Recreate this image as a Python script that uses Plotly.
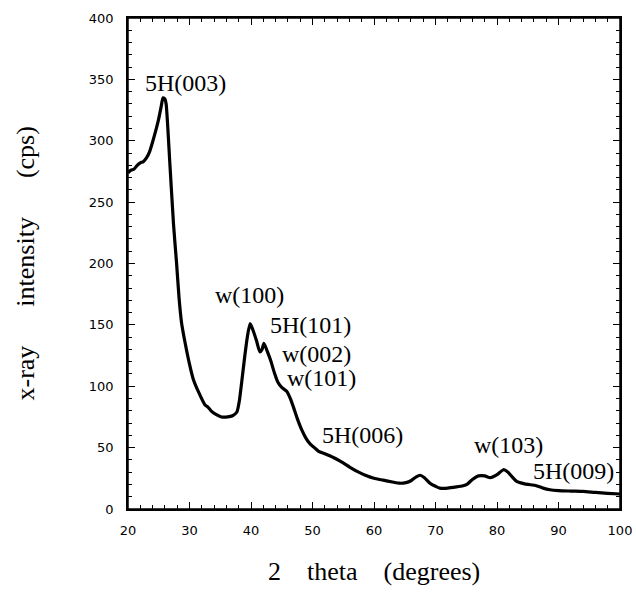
import plotly.graph_objects as go

two_theta = [20.0, 20.5, 21.0, 21.5, 22.0, 22.5, 23.0, 23.5, 24.0, 24.5, 25.0, 25.4, 25.7, 26.0, 26.2,
             26.8, 27.4, 27.9, 28.3, 28.7, 29.3, 30.0, 30.6, 31.5, 32.5, 33.0, 33.5, 34.3, 35.2, 36.2,
             37.0, 37.7, 38.1, 38.5, 39.0, 39.4, 39.85, 40.3, 40.9, 41.45, 41.8, 42.1, 42.6, 43.2,
             43.8, 44.4, 45.0, 45.8, 46.4, 46.9, 47.5, 48.2, 48.9, 49.6, 50.3, 51.0, 52.0, 53.4,
             54.5, 56.1, 57.5, 58.8, 60.0, 61.5, 63.0, 64.2, 65.2, 66.0, 66.8, 67.5, 68.2, 69.1,
             70.0, 70.7, 72.0, 73.4, 74.5, 75.1, 76.0, 77.0, 78.0, 78.9, 80.0, 81.05, 81.8, 82.5,
             83.2, 84.5, 86.4, 87.5, 88.6, 90.0, 92.0, 94.0, 96.0, 98.0, 100.0]
intensity = [274, 276, 277, 280, 282, 283, 286, 291, 299, 308, 318, 328, 335, 334, 330,
             282, 232, 200, 172, 152, 135, 118, 106, 95, 85, 83, 80, 77, 75, 75,
             76, 79, 88, 104, 125, 140, 151, 146, 137, 128, 130, 135, 129, 121,
             111, 103, 99, 96, 90, 83, 74, 65, 58, 53, 50, 47, 45, 42,
             39, 34, 30, 27, 25, 23.5, 22, 21, 21.5, 23, 26, 27.5, 25.5, 21,
             18.5, 17, 17, 18, 19, 20, 24, 27, 27, 25.5, 28, 32, 30, 26,
             22.5, 20.5, 19, 17, 15.7, 15, 14.6, 14.3, 13.5, 12.8, 12.2]

ann_labels = ["5H(003)", "w(100)", "5H(101)", "w(002)", "w(101)", "5H(006)", "w(103)", "5H(009)"]
ann_x = [29.35, 39.8, 49.6, 50.6, 51.4, 58.1, 81.95, 92.4]
ann_y = [347, 174.6, 150, 126, 107, 60.5, 51.8, 30.6]

x_ticks = [20, 30, 40, 50, 60, 70, 80, 90, 100]
y_ticks = [0, 50, 100, 150, 200, 250, 300, 350, 400]

x_title = "2    theta    (degrees)"
y_title = "x-ray      intensity      (cps)"

serif = "Liberation Serif, Times New Roman, serif"
fig = go.Figure()
fig.add_trace(go.Scatter(x=two_theta, y=intensity, mode="lines",
                         line=dict(color="black", width=3.2, shape="spline", smoothing=0.6),
                         showlegend=False, hoverinfo="skip"))
# invisible trace to anchor the mirrored (top / right) axes
fig.add_trace(go.Scatter(x=[two_theta[0]], y=[intensity[0]], xaxis="x2", yaxis="y2",
                         mode="markers", marker=dict(opacity=0), showlegend=False, hoverinfo="skip"))

for t, xx, yy in zip(ann_labels, ann_x, ann_y):
    fig.add_annotation(x=xx, y=yy, text=t, showarrow=False,
                       font=dict(family=serif, size=24, color="black"),
                       xanchor="center", yanchor="middle")

fig.add_annotation(x=0.5, y=0, xref="paper", yref="paper", text=x_title, showarrow=False,
                   xanchor="center", yanchor="middle", yshift=-62,
                   font=dict(family=serif, size=26, color="black"))
fig.add_annotation(x=0, y=0.5, xref="paper", yref="paper", text=y_title, showarrow=False,
                   xanchor="center", yanchor="middle", xshift=-103, textangle=-90,
                   font=dict(family=serif, size=26, color="black"))

# plot frame
fig.add_shape(type="rect", xref="paper", yref="paper", x0=0, x1=1, y0=0, y1=1,
              line=dict(color="black", width=1.5), layer="above")

tick_font = dict(family="DejaVu Sans, Verdana, sans-serif", size=13, color="black")
common = dict(ticks="inside", ticklen=7, tickwidth=1.3, tickcolor="black",
              showline=True, linecolor="black", linewidth=1.5,
              showgrid=False, zeroline=False, automargin=False)

fig.update_layout(
    width=636, height=595, margin=dict(l=128, r=16, t=18, b=86),
    plot_bgcolor="white", paper_bgcolor="white",
    xaxis=dict(range=[20, 100], tickvals=x_ticks, ticktext=[str(v) for v in x_ticks],
               minor=dict(dtick=2, ticks="inside", ticklen=4, tickwidth=1, tickcolor="black"),
               tickfont=tick_font, ticklabelstandoff=9, ticklabeloverflow="allow",
               mirror="allticks", **common),
    yaxis=dict(range=[0, 400], tickvals=y_ticks, ticktext=[str(v) for v in y_ticks],
               minor=dict(dtick=10, ticks="inside", ticklen=4, tickwidth=1, tickcolor="black"),
               tickfont=tick_font, ticklabelstandoff=10, ticklabeloverflow="allow",
               mirror="allticks", **common),
    xaxis2=dict(range=[20, 100], overlaying="x", side="top", anchor="y", tickvals=x_ticks,
                showticklabels=False,
                minor=dict(dtick=2, ticks="inside", ticklen=4, tickwidth=1, tickcolor="black"),
                **common),
    yaxis2=dict(range=[0, 400], overlaying="y", side="right", anchor="x", tickvals=y_ticks,
                showticklabels=False,
                minor=dict(dtick=10, ticks="inside", ticklen=4, tickwidth=1, tickcolor="black"),
                **common),
)

fig.write_html("out.html", config={"displayModeBar": False},
               post_script="document.body.style.margin='0';document.body.style.overflow='hidden';")
